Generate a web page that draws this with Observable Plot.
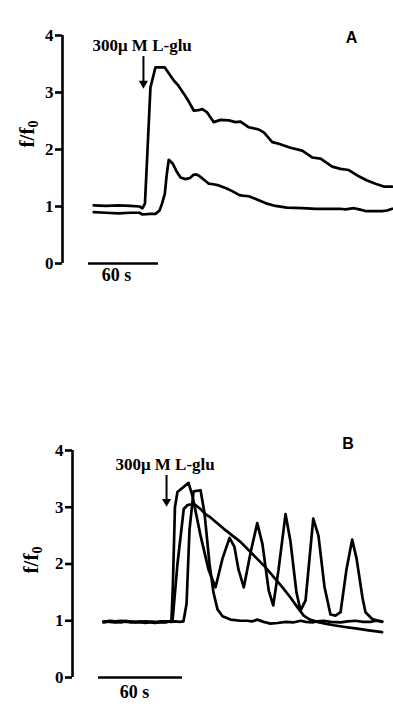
<!DOCTYPE html>
<html>
<head>
<meta charset="utf-8">
<script src="https://cdn.jsdelivr.net/npm/d3@7"></script>
<script src="https://cdn.jsdelivr.net/npm/@observablehq/plot@0.6"></script>
<style>
  body { margin: 0; background: #fff; }
  #a, #b { display: block; }
  #b { margin-top: 110px; }
  svg { display: block; }
</style>
</head>
<body>
<div id="a"></div>
<div id="b"></div>
<script>
// ---------- DATA ----------
const yTicks = [0, 1, 2, 3, 4];
const yLabelMain = "f/f";
const yLabelSub = "0";
const stimLabel = "300\u03bc M L-glu";
const barLabel = "60 s";
const barLength = 60; // seconds
const panelLetters = ["A", "B"];

// Panel A, upper trace (time s, f/f0)
const aUpperT = [4.5, 14.6, 25.7, 36.0, 43.7, 46.3, 48.4, 50.6, 53.1, 57.4, 65.4, 73.1, 77.1, 81.7, 85.7, 90.3, 94.3, 97.5, 101.7, 107.4, 113.1, 120.3, 126.0, 130.3, 137.4, 146.0, 150.3, 157.5, 163.1, 173.1, 183.2, 191.7, 198.9, 208.9, 216.0, 223.1, 231.7, 238.3, 246.0, 253.1, 260.3];
const aUpperV = [1.02, 1.01, 1.02, 1.01, 1.00, 0.97, 1.05, 2.00, 3.09, 3.44, 3.44, 3.21, 3.12, 2.98, 2.85, 2.68, 2.69, 2.71, 2.65, 2.48, 2.52, 2.51, 2.48, 2.49, 2.39, 2.35, 2.30, 2.13, 2.10, 2.03, 1.98, 1.86, 1.84, 1.70, 1.66, 1.64, 1.53, 1.46, 1.40, 1.35, 1.35];

// Panel A, lower trace
const aLowerT = [4.5, 14.6, 25.7, 36.0, 43.7, 46.3, 53.1, 57.4, 60.9, 63.0, 65.4, 67.0, 68.8, 72.3, 75.4, 78.9, 83.1, 87.0, 90.3, 93.0, 96.0, 99.0, 103.1, 107.0, 111.7, 118.0, 123.2, 129.4, 132.0, 137.4, 146.0, 153.0, 160.3, 170.0, 183.2, 195.0, 206.0, 215.0, 220.3, 227.4, 232.0, 237.4, 245.0, 251.7, 256.0, 260.3];
const aLowerV = [0.90, 0.89, 0.88, 0.89, 0.89, 0.86, 0.87, 0.87, 0.93, 1.05, 1.22, 1.55, 1.82, 1.75, 1.62, 1.51, 1.48, 1.50, 1.56, 1.56, 1.52, 1.47, 1.40, 1.39, 1.37, 1.32, 1.27, 1.20, 1.19, 1.18, 1.11, 1.05, 1.01, 0.98, 0.97, 0.96, 0.96, 0.96, 0.95, 0.97, 0.95, 0.92, 0.92, 0.92, 0.93, 0.96];

// Panel B, oscillating trace
const bOscT = [3.6, 8, 12.1, 16, 19.3, 23, 26.4, 30, 33.6, 37, 40.7, 44, 47.9, 50.5, 52.1, 53.1, 54.6, 56.4, 64.3, 67.1, 72.9, 78.6, 83.6, 88.6, 93.6, 97.1, 100.0, 103.8, 108.6, 113.4, 117.1, 121.6, 124.8, 128.6, 133.6, 137.1, 141.4, 144.3, 147.9, 153.4, 157.1, 161.4, 165.7, 169.3, 172.9, 177.1, 181.2, 184.3, 188.6, 190.7, 195.5, 202.6];
const bOscV = [0.98, 1.00, 0.99, 1.00, 0.98, 0.99, 0.97, 0.99, 0.98, 0.97, 0.96, 0.98, 0.98, 0.99, 1.00, 1.60, 3.00, 3.27, 3.43, 3.20, 2.50, 1.90, 1.59, 2.10, 2.46, 2.30, 1.90, 1.59, 2.20, 2.72, 2.35, 1.53, 1.27, 1.90, 2.88, 2.40, 1.50, 1.18, 1.36, 2.80, 2.50, 1.60, 1.11, 1.09, 1.15, 1.90, 2.43, 2.10, 1.40, 1.15, 1.03, 0.98];

// Panel B, transient trace
const bTransT = [3.6, 8, 12.1, 16, 19.3, 23, 26.4, 30, 33.6, 37, 40.7, 44, 47.9, 52, 55.0, 58, 60.7, 62.9, 65.0, 67.9, 72.9, 75.7, 79.3, 82.1, 85.0, 88.6, 94.3, 101.4, 106, 110, 113.4, 117.9, 122.9, 128, 133.6, 139, 144.3, 148, 152.9, 156, 160.7, 166, 172.9, 178, 183.6, 189, 194.3, 198, 202.6];
const bTransV = [0.99, 0.98, 0.97, 0.99, 1.00, 0.98, 0.98, 0.97, 0.99, 0.98, 0.97, 0.99, 0.99, 0.98, 0.99, 0.98, 0.99, 1.30, 2.60, 3.28, 3.30, 2.90, 2.00, 1.50, 1.20, 1.08, 1.02, 1.00, 1.00, 0.99, 1.02, 0.98, 0.95, 0.96, 0.98, 0.97, 1.00, 0.98, 0.97, 0.99, 1.00, 0.98, 0.97, 0.99, 1.00, 0.98, 0.98, 1.00, 0.99];

// Panel B, slow trace
const bSlowT = [3.6, 8, 12.1, 16, 19.3, 23, 26.4, 30, 33.6, 37, 40.7, 44, 47.9, 51, 52.9, 56.4, 60.9, 63.6, 68.1, 72.9, 76.4, 80, 89.5, 101.4, 107, 113.4, 119, 125.2, 131, 137.1, 142, 146.6, 151, 156.2, 162, 168.1, 176, 184.8, 193, 202.6];
const bSlowV = [0.97, 0.99, 0.98, 0.97, 0.99, 0.97, 0.98, 0.98, 0.96, 0.98, 0.98, 0.97, 0.97, 0.99, 1.00, 2.00, 2.97, 3.04, 3.06, 2.97, 2.88, 2.82, 2.62, 2.39, 2.25, 2.09, 1.95, 1.77, 1.60, 1.41, 1.24, 1.09, 1.02, 0.98, 0.95, 0.92, 0.89, 0.86, 0.83, 0.80];

// ---------- DRAWING ----------
const serif = "'Liberation Serif', 'Times New Roman', serif";
const sans = "'Liberation Sans', Arial, sans-serif";

function toRows(t, v) { return t.map((x, i) => ({t: x, v: v[i]})); }

function panel(cfg) {
  const marks = [
    Plot.ruleX([cfg.xDomain[0]], {y1: 0, y2: 4, stroke: "black", strokeWidth: 2.6}),
    Plot.axisY({
      ticks: yTicks, tickSize: 7, tickPadding: 2, strokeWidth: 2.6,
      fontSize: 17, fontWeight: "bold", fontFamily: serif, label: null,
      tickFormat: d => String(d)
    }),
    ...cfg.traces.map(([t, v]) => Plot.line(toRows(t, v), {
      x: "t", y: "v", stroke: "black", strokeWidth: 2.7, strokeLinejoin: "round", strokeLinecap: "round"
    })),
    Plot.ruleY([0], {x1: 0, x2: barLength, stroke: "black", strokeWidth: 2.6}),
    Plot.text([barLabel], {x: cfg.barLabelX, y: 0, dy: cfg.barLabelDy, text: d => d, lineAnchor: "bottom",
      fontSize: 18, fontWeight: "bold", fontFamily: serif, fill: "black"}),
    Plot.text([stimLabel], {x: cfg.stimX, y: cfg.stimY, text: d => d, textAnchor: "start", lineAnchor: "bottom",
      fontSize: 17, fontWeight: "bold", fontFamily: serif, fill: "black"}),
    Plot.ruleX([cfg.arrowX], {y1: cfg.arrowY1, y2: cfg.arrowHead, stroke: "black", strokeWidth: 2}),
    Plot.dot([cfg.arrowX], {x: d => d, y: cfg.arrowHead, symbol: "triangle", r: 3.4, fill: "black", stroke: "none", rotate: 180}),
    Plot.text([cfg.letter], {x: cfg.letterX, y: cfg.letterY, text: d => d, lineAnchor: "bottom",
      fontSize: 16, fontWeight: "bold", fontFamily: sans, fill: "black"})
  ];
  const svg = Plot.plot({
    width: 393, height: 300,
    marginLeft: cfg.marginLeft, marginRight: 0, marginTop: cfg.marginTop, marginBottom: cfg.marginBottom,
    x: {domain: cfg.xDomain, axis: null},
    y: {domain: [0, 4]},
    style: {background: "white", color: "black"},
    marks
  });
  const lab = d3.select(svg).append("text")
    .attr("transform", `translate(${cfg.labelX},${cfg.labelY}) rotate(-90)`)
    .attr("text-anchor", "middle")
    .attr("font-family", serif).attr("font-weight", "bold").attr("font-size", 21)
    .attr("fill", "black");
  lab.append("tspan").text(yLabelMain);
  lab.append("tspan").attr("font-size", 14).attr("dy", 4).text(yLabelSub);
  return svg;
}

document.getElementById("a").appendChild(panel({
  traces: [[aUpperT, aUpperV], [aLowerT, aLowerV]],
  xDomain: [-22.286, 261.43], marginLeft: 62, marginTop: 35, marginBottom: 37,
  barLabelX: 24, barLabelDy: 17,
  stimX: 3.4, stimY: 3.72,
  arrowX: 47.1, arrowY1: 3.63, arrowHead: 3.16,
  letter: panelLetters[0], letterX: 225.4, letterY: 3.86,
  labelX: 34, labelY: 134
}));

document.getElementById("b").appendChild(panel({
  traces: [[bSlowT, bSlowV], [bTransT, bTransV], [bOscT, bOscV]],
  xDomain: [-18.571, 210.714], marginLeft: 72, marginTop: 40, marginBottom: 33,
  barLabelX: 25.7, barLabelDy: 20,
  stimX: 12.1, stimY: 3.665,
  arrowX: 48.6, arrowY1: 3.56, arrowHead: 3.10,
  letter: panelLetters[1], letterX: 178.2, letterY: 4.035,
  labelX: 38, labelY: 150
}));
</script>
</body>
</html>
